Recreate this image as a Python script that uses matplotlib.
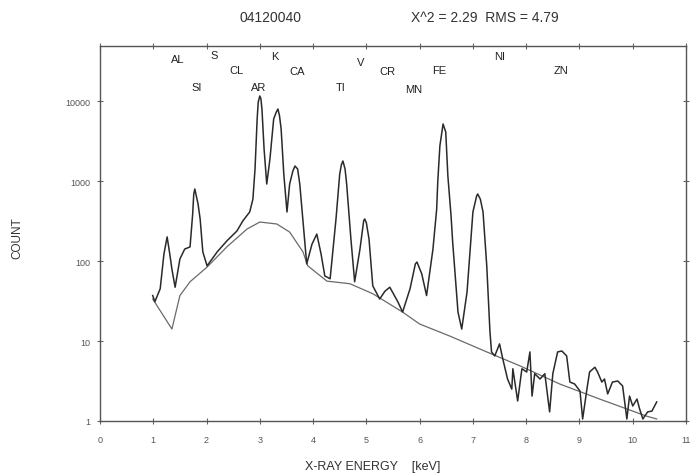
import matplotlib
matplotlib.use("Agg")
import matplotlib.pyplot as plt
import matplotlib.transforms as mtransforms

plt.rcParams['font.family'] = ['Liberation Sans', 'DejaVu Sans']

# ---- data ----
spec_kev = [0.99, 1.03, 1.13, 1.20, 1.26, 1.31, 1.35, 1.41, 1.50, 1.59, 1.69, 1.74, 1.76, 1.78, 1.84, 1.88,
            1.93, 2.01, 2.20, 2.38, 2.57, 2.68, 2.81, 2.87, 2.91, 2.95, 2.97, 3.00, 3.02, 3.04, 3.08, 3.13, 3.19,
            3.26, 3.31, 3.34, 3.37, 3.40, 3.45, 3.51, 3.56, 3.62, 3.66, 3.71, 3.75, 3.79, 3.88, 3.98, 4.07, 4.15,
            4.22, 4.32, 4.43, 4.50, 4.53, 4.56, 4.60, 4.63, 4.71, 4.78, 4.88, 4.95, 4.97, 5.00, 5.05, 5.12, 5.25,
            5.35, 5.44, 5.59, 5.68, 5.82, 5.92, 5.95, 6.04, 6.13, 6.25, 6.32, 6.34, 6.38, 6.44, 6.49, 6.53, 6.59,
            6.62, 6.72, 6.79, 6.89, 7.00, 7.07, 7.09, 7.14, 7.19, 7.26, 7.32, 7.35, 7.41, 7.50, 7.56, 7.65, 7.73,
            7.75, 7.84, 7.92, 8.01, 8.07, 8.11, 8.16, 8.26, 8.35, 8.44, 8.50, 8.59, 8.67, 8.76, 8.82, 8.91, 9.01,
            9.06, 9.14, 9.19, 9.29, 9.34, 9.42, 9.47, 9.53, 9.62, 9.72, 9.81, 9.89, 9.94, 10.00, 10.08, 10.13,
            10.19, 10.28, 10.36, 10.45]
spec_count = [37, 31, 45, 122, 200, 122, 79, 47, 106, 141, 150, 390, 688, 794, 518, 335,
              130, 87, 130, 178, 237, 316, 410, 592, 1413, 5960, 9700, 11550, 10700, 7940, 2512, 917, 1884,
              5960, 7300, 7940, 6500, 4467, 1223, 410, 917, 1330, 1540, 1413, 917, 447, 92, 163, 217, 122,
              65, 60, 335, 1223, 1590, 1778, 1413, 917, 188, 55, 141, 320, 335, 300, 188, 49, 33.5,
              42, 47, 31, 23, 45, 92, 97, 69, 37, 141, 447, 971, 2750, 5160, 4100, 1155, 365,
              173, 23, 14.1, 41, 410, 650, 688, 592, 410, 87, 13, 7.3, 6.5, 9.2, 6.0, 3.35, 2.5,
              4.5, 1.78, 4.5, 4.1, 7.3, 2.05, 3.9, 3.35, 3.9, 1.30, 3.9, 7.3, 7.5, 6.5, 3.07, 2.9, 2.37,
              1.06, 2.5, 4.1, 4.7, 4.1, 3.07, 3.35, 2.18, 3.07, 3.16, 2.74, 1.06, 2.05, 1.54, 1.88, 1.41,
              1.06, 1.30, 1.33, 1.73]

bg_kev = [0.99, 1.35, 1.50, 1.69, 2.01, 2.38, 2.76, 3.00, 3.32, 3.56, 3.81, 3.90, 4.26, 4.69,
          5.12, 5.68, 6.00, 6.57, 7.26, 7.88, 8.63, 9.38, 10.26, 10.45]
bg_count = [33.5, 14.1, 37, 55, 84, 150, 251, 307, 290, 230, 130, 87, 56, 52,
            39, 23, 16.3, 11.5, 7.3, 4.9, 2.9, 1.88, 1.15, 1.06]

elements = ['AL', 'SI', 'S', 'CL', 'AR', 'K', 'CA', 'TI', 'V', 'CR', 'MN', 'FE', 'NI', 'ZN']
element_kev = [1.46, 1.82, 2.14, 2.57, 2.98, 3.28, 3.70, 4.52, 4.90, 5.40, 5.89, 6.36, 7.50, 8.65]
element_row = [0.965, 0.891, 0.975, 0.936, 0.891, 0.972, 0.934, 0.891, 0.957, 0.934, 0.886, 0.936, 0.972, 0.936]

x_ticks = list(range(0, 12))
y_ticks = [1, 10, 100, 1000, 10000]
y_tick_labels = ['1', '10', '100', '1000', '10000']

sample_id = '04120040'
fit_text = 'X^2 = 2.29  RMS = 4.79'

# ---- figure ----
fig = plt.figure(figsize=(6.9, 4.77), dpi=100)
ax = fig.add_axes([100 / 690, 55 / 477, 586 / 690, 375 / 477])

ax.plot(bg_kev, bg_count, color='#6a6a6a', lw=0.9)
ax.plot(spec_kev, spec_count, color='#2a2a2a', lw=1.1)

ax.set_yscale('log')
ax.set_xlim(0, 11)
ax.set_ylim(1, 48700)
ax.set_xticks(x_ticks)
ax.set_xticklabels([str(t) for t in x_ticks])
ax.set_yticks(y_ticks)
ax.set_yticklabels(y_tick_labels)
ax.yaxis.set_minor_locator(matplotlib.ticker.NullLocator())

for s in ax.spines.values():
    s.set_color('#555555')
    s.set_linewidth(1.0)
ax.tick_params(axis='both', which='major', direction='inout', length=4, width=0.8,
               color='#666666', labelcolor='#555555', labelsize=6.5, top=True, right=True)
ax.tick_params(axis='x', pad=8)
ax.tick_params(axis='y', pad=5)

trans = mtransforms.blended_transform_factory(ax.transData, ax.transAxes)
for name, xk, yr in zip(elements, element_kev, element_row):
    ax.text(xk, yr, name, transform=trans, ha='center', va='center', fontsize=8,
            color='#222222')

ax.set_xlabel('X-RAY ENERGY    [keV]', fontsize=9, color='#333333', labelpad=6)
ax.xaxis.set_label_coords(0.465, -0.105)
ax.set_ylabel('COUNT', fontsize=8.5, color='#333333')
ax.yaxis.set_label_coords(-0.13, 0.49)

fig.text(270 / 690, 1 - 18 / 477, sample_id, ha='center', va='center', fontsize=10, color='#333333')
fig.text(485 / 690, 1 - 18 / 477, fit_text, ha='center', va='center', fontsize=10, color='#333333')

fig.savefig('out.png', dpi=100)
